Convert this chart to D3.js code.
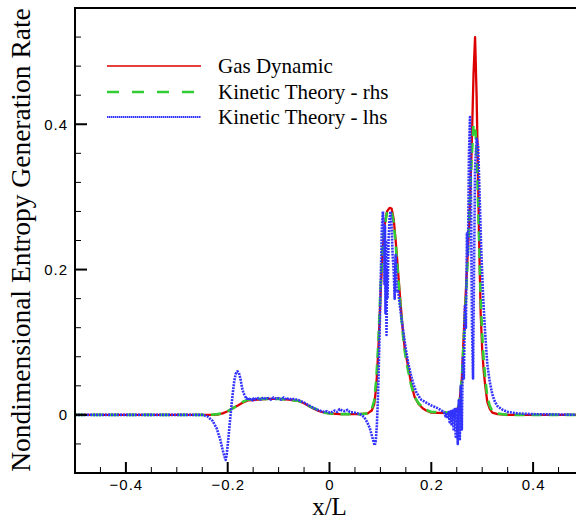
<!DOCTYPE html>
<html><head><meta charset="utf-8">
<script src="https://cdn.jsdelivr.net/npm/d3@7"></script>
<style>body{margin:0;background:#fff}svg{display:block}</style>
</head><body>
<svg id="c" width="576" height="522"></svg>
<script>
// ---- data ----
const seriesNames = ["Gas Dynamic", "Kinetic Theory - rhs", "Kinetic Theory - lhs"];
const xTickLabels = [-0.4, -0.2, 0, 0.2, 0.4];
const yTickLabels = [0, 0.2, 0.4];

const gasDynamic = [
[-0.5,0],[-0.23,0],[-0.22,0.0005],[-0.21,0.002],[-0.2,0.005],[-0.19,0.009],[-0.18,0.013],[-0.17,0.017],
[-0.16,0.02],[-0.14,0.021],[-0.12,0.022],[-0.1,0.022],[-0.08,0.021],[-0.06,0.019],[-0.05,0.016],[-0.04,0.012],
[-0.03,0.008],[-0.02,0.005],[-0.01,0.003],[0,0.002],[0.02,0.001],[0.06,0.001],[0.075,0.002],[0.083,0.006],
[0.088,0.015],[0.092,0.04],[0.096,0.09],[0.1,0.16],[0.104,0.22],[0.108,0.26],[0.113,0.28],[0.118,0.285],
[0.122,0.284],[0.126,0.27],[0.13,0.24],[0.136,0.186],[0.14,0.15],[0.144,0.117],[0.148,0.09],[0.153,0.072],
[0.16,0.045],[0.167,0.025],[0.175,0.015],[0.183,0.009],[0.19,0.006],[0.2,0.003],[0.24,0.002],[0.25,0.005],
[0.255,0.015],[0.26,0.05],[0.265,0.13],[0.27,0.2],[0.275,0.27],[0.279,0.36],[0.283,0.47],[0.286,0.52],
[0.289,0.44],[0.291,0.36],[0.294,0.24],[0.297,0.14],[0.3,0.09],[0.303,0.06],[0.306,0.04],[0.31,0.018],
[0.315,0.008],[0.32,0.003],[0.33,0.001],[0.35,0],[0.5,0]
];

const kineticRhs = [
[-0.5,0],[-0.235,0],[-0.22,0.001],[-0.21,0.002],[-0.2,0.005],[-0.19,0.009],[-0.18,0.013],[-0.17,0.018],
[-0.16,0.021],[-0.14,0.022],[-0.12,0.022],[-0.1,0.022],[-0.08,0.021],[-0.06,0.019],[-0.05,0.016],[-0.04,0.012],
[-0.03,0.009],[-0.02,0.006],[-0.01,0.003],[0,0.002],[0.02,0.001],[0.06,0.001],[0.075,0.002],[0.083,0.008],
[0.088,0.02],[0.092,0.05],[0.096,0.1],[0.1,0.17],[0.104,0.225],[0.108,0.26],[0.113,0.278],[0.118,0.282],
[0.122,0.28],[0.126,0.265],[0.13,0.235],[0.136,0.18],[0.14,0.145],[0.144,0.112],[0.148,0.087],[0.153,0.066],
[0.16,0.042],[0.167,0.025],[0.175,0.016],[0.183,0.01],[0.19,0.007],[0.2,0.004],[0.24,0.003],[0.25,0.007],
[0.255,0.015],[0.26,0.05],[0.265,0.12],[0.27,0.19],[0.275,0.28],[0.279,0.35],[0.283,0.4],[0.287,0.39],
[0.29,0.34],[0.294,0.24],[0.297,0.16],[0.3,0.11],[0.303,0.075],[0.306,0.05],[0.31,0.025],[0.315,0.012],
[0.32,0.005],[0.33,0.002],[0.35,0],[0.5,0]
];

const kineticLhs = [
[-0.5,0],[-0.25,0],[-0.24,-0.002],[-0.23,-0.008],[-0.222,-0.018],[-0.215,-0.033],[-0.21,-0.048],[-0.206,-0.058],
[-0.204,-0.062],[-0.202,-0.055],[-0.199,-0.035],[-0.196,-0.012],[-0.193,0.01],[-0.19,0.03],[-0.187,0.047],
[-0.184,0.057],[-0.181,0.06],[-0.178,0.058],[-0.175,0.05],[-0.172,0.038],[-0.169,0.03],[-0.166,0.026],
[-0.163,0.022],[-0.16,0.024],[-0.157,0.02],[-0.154,0.023],[-0.151,0.02],[-0.148,0.024],[-0.145,0.021],
[-0.14,0.023],[-0.135,0.021],[-0.13,0.024],[-0.125,0.022],[-0.12,0.023],[-0.115,0.021],[-0.11,0.024],
[-0.105,0.022],[-0.1,0.023],[-0.095,0.021],[-0.09,0.024],[-0.085,0.021],[-0.08,0.023],[-0.075,0.021],
[-0.07,0.022],[-0.06,0.02],[-0.05,0.017],[-0.04,0.013],[-0.03,0.009],[-0.02,0.006],[-0.01,0.004],
[-0.005,0.005],[0,0.003],[0.005,0.004],[0.01,0.006],[0.015,0.004],[0.02,0.008],[0.025,0.006],[0.03,0.005],
[0.035,0.007],[0.04,0.004],[0.05,0.003],[0.06,0.001],[0.068,-0.003],[0.074,-0.01],[0.079,-0.018],
[0.083,-0.028],[0.087,-0.038],[0.089,-0.042],[0.091,-0.035],[0.093,-0.015],[0.095,0.02],[0.097,0.07],
[0.099,0.13],[0.101,0.2],[0.103,0.26],[0.105,0.28],[0.107,0.25],[0.108,0.18],[0.109,0.26],[0.11,0.14],
[0.111,0.24],[0.112,0.11],[0.113,0.2],[0.114,0.16],[0.116,0.24],[0.118,0.27],[0.12,0.28],[0.122,0.26],
[0.124,0.22],[0.126,0.2],[0.128,0.16],[0.13,0.22],[0.132,0.17],[0.135,0.17],[0.14,0.14],[0.145,0.115],
[0.15,0.09],[0.155,0.07],[0.16,0.055],[0.165,0.042],[0.17,0.032],[0.175,0.026],[0.18,0.021],[0.19,0.017],
[0.2,0.013],[0.21,0.01],[0.22,0.006],[0.225,0.004],[0.228,-0.002],[0.23,0.003],[0.232,-0.005],[0.234,0.004],
[0.236,-0.01],[0.238,0.005],[0.24,-0.015],[0.242,0.006],[0.244,-0.022],[0.246,0.008],[0.248,-0.03],
[0.25,0.01],[0.252,-0.04],[0.254,0.02],[0.256,-0.035],[0.258,0.04],[0.26,-0.02],[0.262,0.08],[0.264,0.05],
[0.266,0.15],[0.268,0.12],[0.27,0.25],[0.272,0.22],[0.274,0.36],[0.276,0.41],[0.278,0.3],[0.28,0.12],
[0.282,0.05],[0.284,0.2],[0.286,0.34],[0.289,0.38],[0.292,0.37],[0.295,0.3],[0.298,0.23],[0.302,0.16],
[0.306,0.11],[0.31,0.07],[0.315,0.045],[0.32,0.028],[0.325,0.018],[0.33,0.012],[0.34,0.007],[0.35,0.004],
[0.37,0.002],[0.4,0.001],[0.5,0]
];

// ---- drawing ----
const svg = d3.select("#c");
const L = 75, R = 584, T = 8, B = 473;
const x = d3.scaleLinear().domain([-0.5, 0.5]).range([L, R]);
const y = d3.scaleLinear().domain([-0.08, 0.56]).range([B, T]);

const defs = svg.append("defs");
defs.append("clipPath").attr("id","clip").append("rect")
  .attr("x", L).attr("y", T).attr("width", R - L).attr("height", B - T);

const styles = [
  {color:"#dd0000", width:2.3, dash:null},
  {color:"#33cc33", width:2.6, dash:"10,7"},
  {color:"#3333ff", width:2.6, dash:"2,1"}
];
const data = [gasDynamic, kineticRhs, kineticLhs];

const line = d3.line().x(d => x(d[0])).y(d => y(d[1]));
const g = svg.append("g").attr("clip-path","url(#clip)");
data.forEach((d, i) => {
  g.append("path").datum(d).attr("d", line)
    .attr("fill","none").attr("stroke", styles[i].color)
    .attr("stroke-width", styles[i].width)
    .attr("stroke-dasharray", styles[i].dash)
    .attr("stroke-linejoin","round");
});

// axes
const tickFont = "'Liberation Sans', Arial, sans-serif";
const xAxis = d3.axisBottom(x).tickValues(xTickLabels).tickSize(0).tickPadding(0)
  .tickFormat(d => d === 0 ? "0" : d3.format(".1f")(d));
const xg = svg.append("g").attr("transform", `translate(0,${B})`).call(xAxis);
xg.select(".domain").remove();
xg.selectAll("text").attr("font-family", tickFont).attr("font-size", 15)
  .attr("letter-spacing", "1px").attr("dy", "1.15em").attr("fill","#000");
const xMinor = d3.range(-0.5, 0.5001, 0.05).map(v => +v.toFixed(2));
svg.append("g").selectAll("line").data(xMinor).join("line")
  .attr("x1", d => x(d)).attr("x2", d => x(d))
  .attr("y1", B).attr("y2", d => xTickLabels.includes(d) ? B - 11 : B - 6)
  .attr("stroke", "#000").attr("stroke-width", d => xTickLabels.includes(d) ? 2 : 1);

const yAxis = d3.axisLeft(y).tickValues(yTickLabels).tickSize(0).tickPadding(7)
  .tickFormat(d => d === 0 ? "0" : d3.format(".1f")(d));
const yg = svg.append("g").attr("transform", `translate(${L},0)`).call(yAxis);
yg.select(".domain").remove();
yg.selectAll("text").attr("font-family", tickFont).attr("font-size", 15)
  .attr("letter-spacing", "1px").attr("fill","#000");
const yMinor = d3.range(-0.08, 0.5601, 0.04).map(v => +v.toFixed(2));
svg.append("g").selectAll("line").data(yMinor).join("line")
  .attr("y1", d => y(d)).attr("y2", d => y(d))
  .attr("x1", L).attr("x2", d => yTickLabels.includes(d) ? L + 12 : L + 6)
  .attr("stroke", "#000").attr("stroke-width", d => yTickLabels.includes(d) ? 2 : 1);

// frame lines
svg.append("line").attr("x1", L).attr("x2", L).attr("y1", T - 1).attr("y2", B + 1)
  .attr("stroke","#000").attr("stroke-width",2);
svg.append("line").attr("x1", L - 1).attr("x2", 576).attr("y1", B).attr("y2", B)
  .attr("stroke","#000").attr("stroke-width",2);
svg.append("line").attr("x1", L - 1).attr("x2", 576).attr("y1", T).attr("y2", T)
  .attr("stroke","#000").attr("stroke-width",2);

// titles
const serif = "'Liberation Serif', 'Times New Roman', serif";
svg.append("text").attr("x", x(0)).attr("y", 515).attr("text-anchor","middle")
  .attr("font-family", serif).attr("font-size", 25).text("x/L");
svg.append("text").attr("transform","translate(30,240) rotate(-90)").attr("text-anchor","middle")
  .attr("font-family", serif).attr("font-size", 27.5).text("Nondimensional Entropy Generation Rate");

// legend
const legY = [66, 92, 117];
const leg = svg.append("g");
seriesNames.forEach((n, i) => {
  leg.append("line").attr("x1", 107).attr("x2", 201).attr("y1", legY[i]).attr("y2", legY[i])
    .attr("stroke", styles[i].color).attr("stroke-width", i === 1 ? 2.5 : (i === 2 ? 2 : 1.6))
    .attr("stroke-dasharray", i === 1 ? "12,13" : (i === 2 ? "1.5,0.5" : null));
  leg.append("text").attr("x", 218).attr("y", legY[i] + 7)
    .attr("font-family", serif).attr("font-size", 21).text(n);
});
</script>
</body></html>
